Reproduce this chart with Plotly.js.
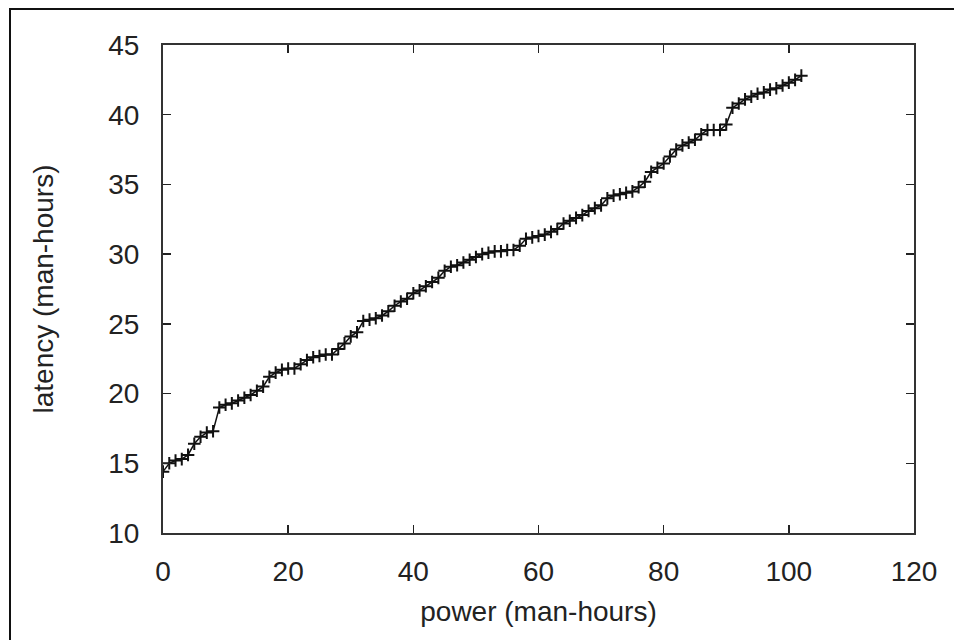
<!DOCTYPE html>
<html>
<head>
<meta charset="utf-8">
<script src="https://cdn.plot.ly/plotly-3.0.1.min.js"></script>
<style>
  html, body { margin: 0; padding: 0; background: #fff; }
  #frame { position: absolute; left: 9px; top: 8px; width: 945px; height: 632px; border-left: 2px solid #111; border-top: 2px solid #111; box-sizing: border-box; pointer-events: none; z-index: 5; }
  #chart { position: absolute; left: 0; top: 0; width: 954px; height: 640px; }
</style>
</head>
<body>
<div id="chart"></div>
<div id="frame"></div>
<script>
// power (man-hours)
const powerValues = [
  0, 1, 2, 3, 4, 5, 6, 7, 8, 9,
  10, 11, 12, 13, 14, 15, 16, 17, 18, 19,
  20, 21, 22, 23, 24, 25, 26, 27, 28, 29,
  30, 31, 32, 33, 34, 35, 36, 37, 38, 39,
  40, 41, 42, 43, 44, 45, 46, 47, 48, 49,
  50, 51, 52, 53, 54, 55, 56, 57, 58, 59,
  60, 61, 62, 63, 64, 65, 66, 67, 68, 69,
  70, 71, 72, 73, 74, 75, 76, 77, 78, 79,
  80, 81, 82, 83, 84, 85, 86, 87, 88, 89,
  90, 91, 92, 93, 94, 95, 96, 97, 98, 99,
  100, 101, 102
];
// latency (man-hours)
const latencyValues = [
  14.4, 15.0, 15.2, 15.3, 15.6, 16.4, 16.9, 17.2, 17.3, 19.0,
  19.2, 19.3, 19.5, 19.7, 19.9, 20.2, 20.5, 21.2, 21.5, 21.7,
  21.8, 21.8, 22.1, 22.4, 22.6, 22.7, 22.8, 22.8, 23.2, 23.6,
  24.1, 24.4, 25.2, 25.3, 25.4, 25.6, 25.9, 26.3, 26.6, 26.8,
  27.2, 27.4, 27.7, 28.0, 28.3, 28.8, 29.1, 29.2, 29.4, 29.6,
  29.8, 30.0, 30.1, 30.2, 30.2, 30.3, 30.3, 30.6, 31.1, 31.2,
  31.3, 31.4, 31.6, 31.8, 32.2, 32.4, 32.6, 32.8, 33.1, 33.3,
  33.5, 34.0, 34.2, 34.3, 34.4, 34.5, 34.8, 35.2, 35.9, 36.2,
  36.5, 37.0, 37.5, 37.8, 38.0, 38.2, 38.6, 38.9, 38.9, 38.9,
  39.3, 40.5, 40.8, 41.1, 41.3, 41.5, 41.6, 41.8, 41.9, 42.1,
  42.3, 42.5, 42.8
];
const xTickVals = [0, 20, 40, 60, 80, 100, 120];
const yTickVals = [10, 15, 20, 25, 30, 35, 40, 45];
const xTitle = "power (man-hours)";
const yTitle = "latency (man-hours)";

const trace = {
  x: powerValues,
  y: latencyValues,
  type: "scatter",
  mode: "lines+markers",
  line: { color: "#111", width: 1.5 },
  marker: { symbol: "cross-thin", size: 9, line: { color: "#111", width: 2 } },
  showlegend: false,
  hoverinfo: "x+y"
};

const fontFam = "Liberation Sans, Arial, sans-serif";
const axisCommon = {
  showgrid: false,
  zeroline: false,
  showline: true,
  linecolor: "#333",
  linewidth: 2,
  mirror: "ticks",
  ticks: "inside",
  ticklen: 8,
  tickwidth: 1.5,
  tickcolor: "#222",
  tickfont: { family: fontFam, size: 28, color: "#222" },
  title: { font: { family: fontFam, size: 28, color: "#222" } }
};

const layout = {
  width: 954,
  height: 640,
  paper_bgcolor: "#fff",
  plot_bgcolor: "#fff",
  margin: { l: 163, r: 40, t: 45, b: 107, pad: 0 },
  xaxis: Object.assign({}, axisCommon, {
    range: [0, 120],
    tickvals: xTickVals,
    ticktext: xTickVals.map(String),
    ticklabelstandoff: 12,
    title: { text: xTitle, font: axisCommon.title.font, standoff: 16 }
  }),
  yaxis: Object.assign({}, axisCommon, {
    range: [10, 45],
    tickvals: yTickVals,
    ticktext: yTickVals.map(String),
    ticklabelstandoff: 16,
    title: { text: yTitle, font: axisCommon.title.font, standoff: 46 }
  })
};

Plotly.newPlot("chart", [trace], layout, { displayModeBar: false, staticPlot: true });
</script>
</body>
</html>
